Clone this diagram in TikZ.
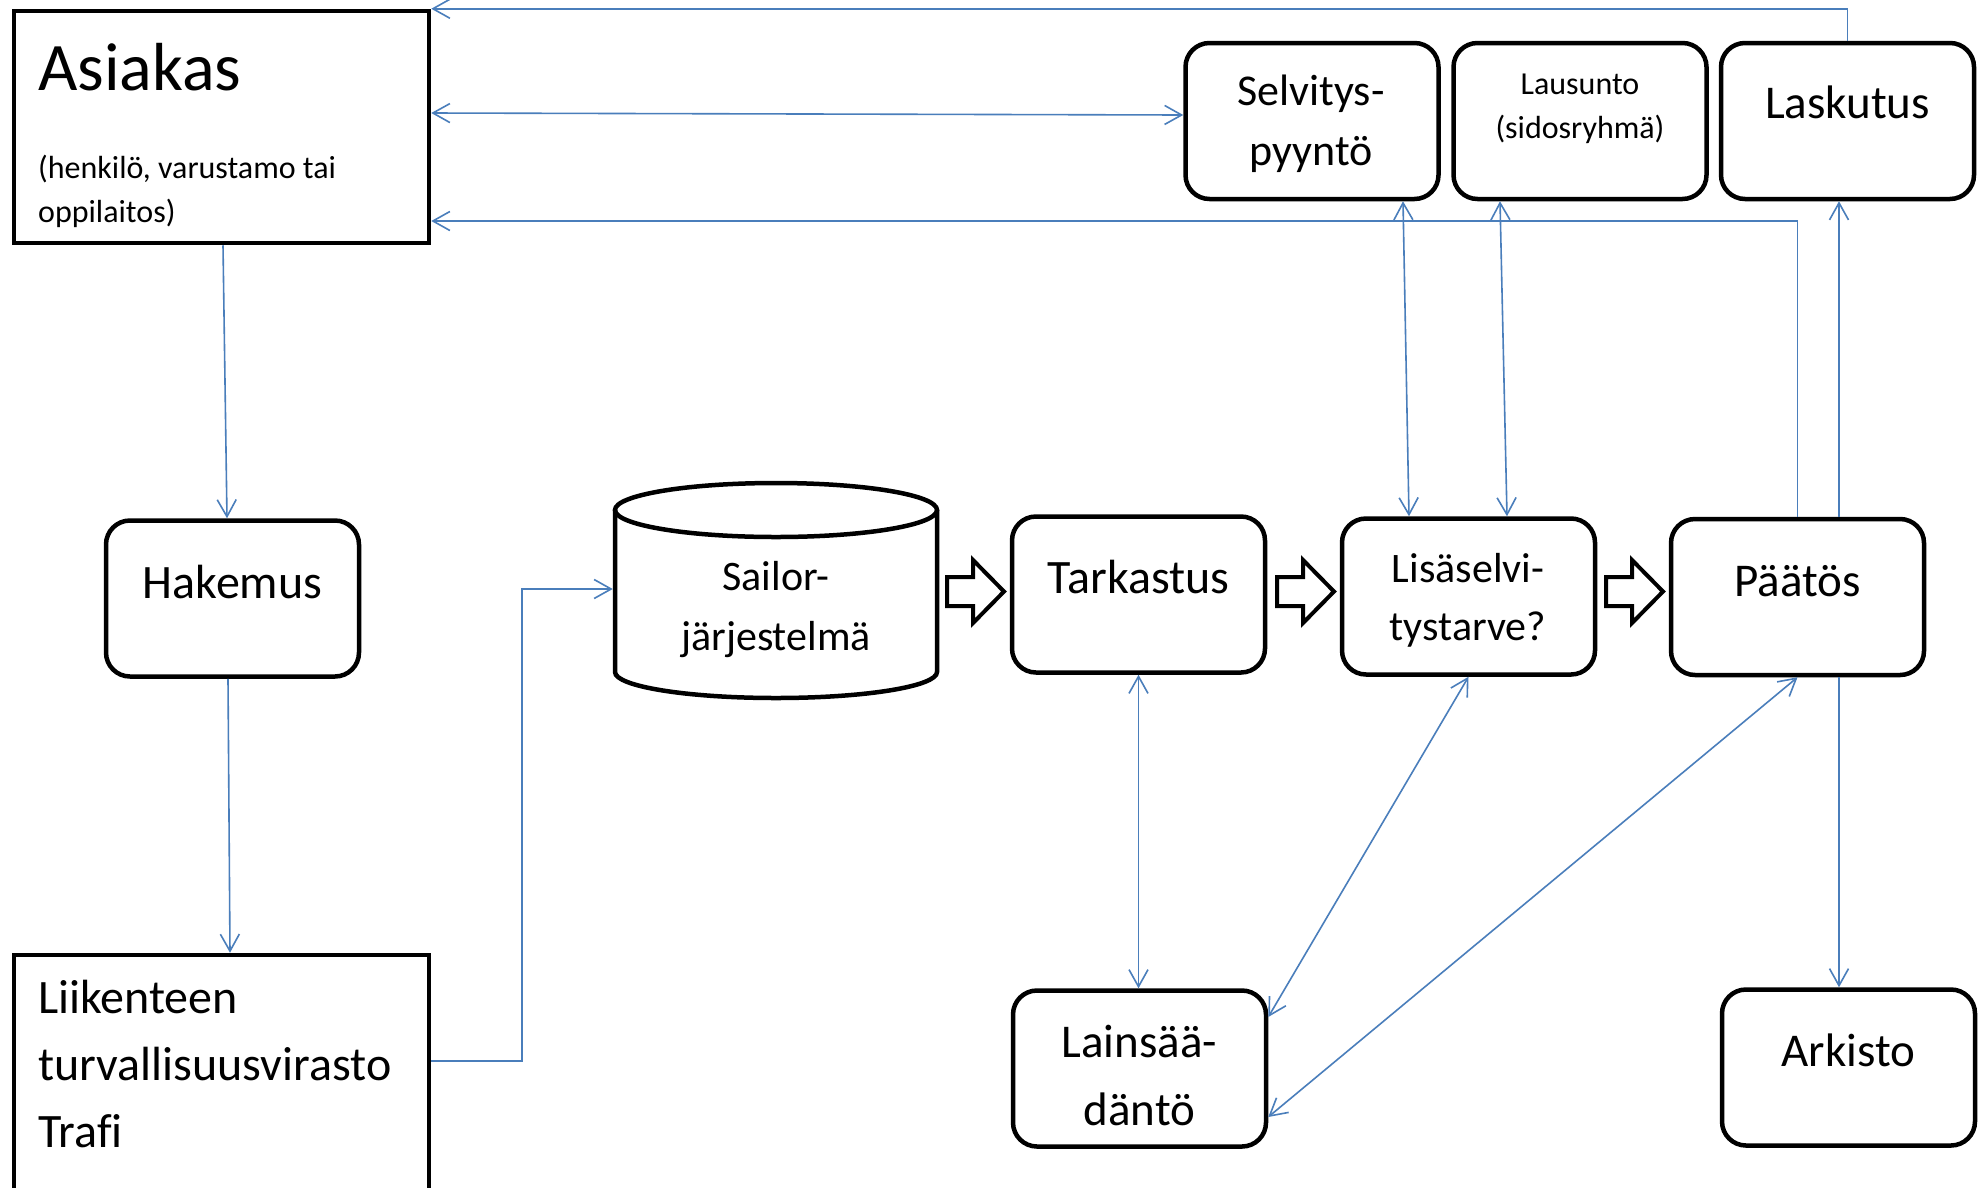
\documentclass[tikz,border=0pt]{standalone}
\usepackage{fontspec}
\setmainfont{Carlito}[Ligatures=NoCommon]
\usetikzlibrary{arrows.meta}
\definecolor{linkblue}{RGB}{74,126,187}
\newcommand\fsz[1]{\fontsize{#1}{#1}\selectfont}
\begin{document}
\begin{tikzpicture}[x=1pt,y=-1pt,
  >={Straight Barb[length=17pt,width=19pt]},
  box/.style={draw, line width=4.5pt, rounded corners=24pt, minimum width=253pt, minimum height=156pt, inner sep=0pt},
  sqbox/.style={draw, line width=4.5pt, inner sep=0pt},
  conn/.style={draw=linkblue, line width=1.6pt},
  blockarrow/.style={draw, line width=4pt, fill=white, line join=miter},
  lt/.style={anchor=base west, inner sep=0pt},
  ct/.style={anchor=base, inner sep=0pt}]
\clip (0,0) rectangle (1984,1187);
\fill[white] (0,0) rectangle (1984,1187);

% boxes
\node[sqbox, minimum width=415pt, minimum height=232pt] (asiakas) at (221.5,127) {};
\node[box] (selv) at (1312,121) {};
\node[box] (laus) at (1580,121) {};
\node[box] (lask) at (1847.5,121) {};
\node[box] (hak) at (232.5,598.5) {};
\node[box] (tark) at (1138.5,594.5) {};
\node[box] (lisa) at (1468.5,596.5) {};
\node[box] (paat) at (1797.5,597) {};
\node[box] (lain) at (1139.5,1068.5) {};
\node[box] (ark) at (1848.5,1067.5) {};
\node[sqbox, minimum width=415pt, minimum height=250pt] (liik) at (221.5,1080) {};
\node[minimum width=322pt, minimum height=215pt, inner sep=0pt, outer sep=2.25pt] (sailor) at (776,590.5) {};

% cylinder
\draw[line width=4.5pt] (776,510) ellipse [x radius=161pt, y radius=27pt];
\draw[line width=4.5pt] (615,510) -- (615,672) arc[start angle=180, end angle=360, x radius=161pt, y radius=26pt] -- (937,510);

% block arrows
\foreach \s in {947,1277,1606}
  \draw[blockarrow] (\s,577) -- (\s+26,577) -- (\s+26,560) -- (\s+57,591.5) -- (\s+26,623) -- (\s+26,606) -- (\s,606) -- cycle;

% texts
\node[lt, font=\fsz{68}] (tA1) at (38,90) {Asiakas};
\node[lt, font=\fsz{32}] (tA2) at (38,178) {(henkilö, varustamo tai};
\node[lt, font=\fsz{32}] (tA3) at (38,222) {oppilaitos)};
\node[ct, font=\fsz{44}] (tS1) at (1311,105) {Selvitys-};
\node[ct, font=\fsz{44}] (tS2) at (1311,165) {pyyntö};
\node[ct, font=\fsz{32}] (tL1) at (1580,94) {Lausunto};
\node[ct, font=\fsz{32}] (tL2) at (1580,138) {(sidosryhmä)};
\node[ct, font=\fsz{47}] (tLa) at (1847.5,118) {Laskutus};
\node[ct, font=\fsz{48}] (tH) at (232.5,598) {Hakemus};
\node[ct, font=\fsz{42}] (tSa1) at (776,590) {Sailor-};
\node[ct, font=\fsz{42}] (tSa2) at (776,650) {järjestelmä};
\node[ct, font=\fsz{48}] (tT) at (1138.5,593) {Tarkastus};
\node[ct, font=\fsz{42}] (tLi1) at (1468,582) {Lisäselvi-};
\node[ct, font=\fsz{42}] (tLi2) at (1468,640) {tystarve?};
\node[ct, font=\fsz{47}] (tP) at (1797.5,596) {Päätös};
\node[ct, font=\fsz{47}] (tLn1) at (1139.5,1057) {Lainsää-};
\node[ct, font=\fsz{47}] (tLn2) at (1139.5,1125) {däntö};
\node[ct, font=\fsz{47}] (tAr) at (1848.5,1066) {Arkisto};
\node[lt, font=\fsz{48}] (tLk1) at (38,1013) {Liikenteen};
\node[lt, font=\fsz{48}] (tLk2) at (38,1080) {turvallisuusvirasto};
\node[lt, font=\fsz{48}] (tLk3) at (38,1147) {Trafi};

% connectors
\coordinate (p1) at ([xshift=41.5pt]paat.north);
\coordinate (p2) at ([xshift=41.5pt]paat.south);
\coordinate (jog) at (522,589);
\draw[conn,->] (lask.north) |- (asiakas.north east);
\draw[conn,<->] ([yshift=14pt]asiakas.east) -- ([yshift=6pt]selv.west);
\draw[conn,->] (paat.north) |- ([yshift=-94pt]asiakas.east);
\draw[conn,->] (p1) -- (p1 |- lask.south);
\draw[conn,->] (p2) -- (p2 |- ark.north);
\draw[conn,<->] ([xshift=91pt]selv.south) -- ([xshift=-59.5pt]lisa.north);
\draw[conn,<->] ([xshift=-80pt]laus.south) -- ([xshift=38.5pt]lisa.north);
\draw[conn,<->] (tark.south) -- (tark.south |- lain.north);
\draw[conn,<->] (lisa.south) -- ([yshift=51.5pt]lain.east);
\draw[conn,<->] (paat.south) -- ([yshift=-48.5pt]lain.east);
\draw[conn,->] ([xshift=1.5pt]asiakas.south) -- ([xshift=-5.5pt]hak.north);
\draw[conn,->] ([xshift=-4.5pt]hak.south) -- ([xshift=8.5pt]liik.north);
\draw[conn,->] ([yshift=19pt]liik.east) -| (jog) -- ([yshift=1.5pt]sailor.west);
\end{tikzpicture}
\end{document}
